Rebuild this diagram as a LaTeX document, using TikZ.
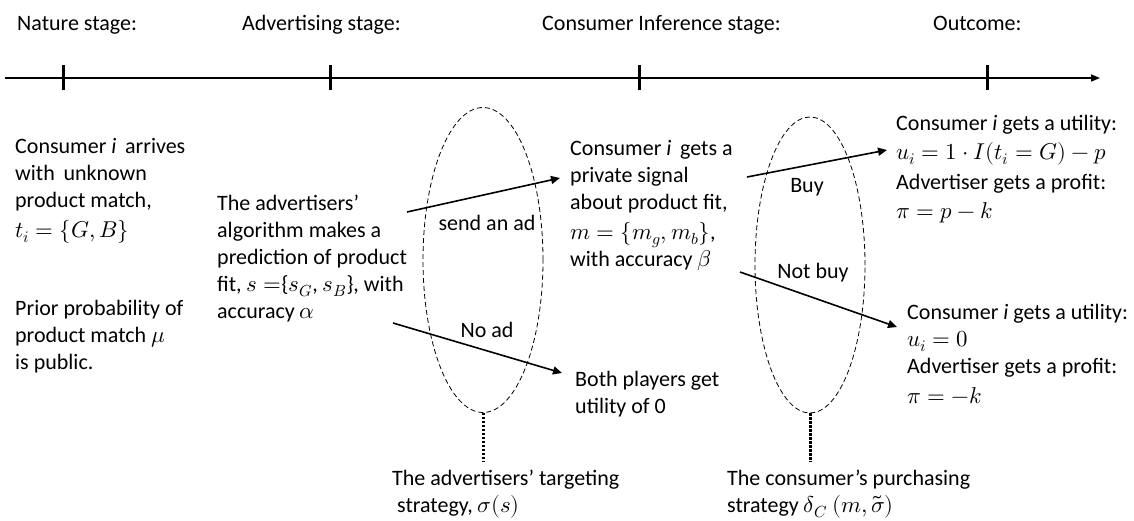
\documentclass[tikz,border=0pt]{standalone}
\usepackage{fontspec}
\usepackage{unicode-math}
\setmainfont{Carlito}
\setmathfont{Latin Modern Math}[Scale=1.04]
\usetikzlibrary{positioning, arrows.meta, shapes.geometric}

\tikzset{
  txt/.style={anchor=base west, align=left, inner sep=0pt, font=\fontsize{22}{27}\selectfont},
  act/.style={inner sep=0pt, font=\fontsize{22}{27}\selectfont},
  choice/.style={-{Triangle[length=9pt,width=8pt]}, line width=1.6pt},
  infoset/.style={draw, ellipse, dash pattern=on 5pt off 3pt, line width=0.8pt, inner sep=0pt},
  link/.style={line width=3pt, dash pattern=on 2.5pt off 1.5pt},
  tickmark/.style={line width=3pt}
}

\begin{document}
\begin{tikzpicture}[x=1pt, y=-1pt]
  \useasboundingbox (0,0) rectangle (1134,520);

  % time line
  \coordinate (tStart) at (5,78);
  \coordinate (tEnd) at (1100,78);
  \draw[line width=1.6pt, -{Triangle[length=9pt,width=7pt]}] (tStart) -- (tEnd);
  \foreach \name/\x in {nat/63, adv/330, inf/639, out/987}
    \draw[tickmark] (\x,65) coordinate (\name) -- (\x,90);

  % stages (base = last line)
  \node[txt] (natStage) at (17,30)  {Nature stage:};
  \node[txt] (advStage) at (242,30) {Advertising stage:};
  \node[txt] (infStage) at (542,30) {Consumer Inference stage:};
  \node[txt] (outStage) at (933,30) {Outcome:};

  % nature
  \node[txt] (arrive) at (15,237) {Consumer \textit{i}\, arrives\\ with\, unknown\\ product match,\\[3pt] $t_i=\{G,B\}$};
  \node[txt] (prior) at (15,369) {Prior probability of\\ product match $\mu$\\ is public.};

  % advertiser
  \node[txt] (algo) at (217,318) {The advertisers’\\ algorithm makes a\\ prediction of product\\ fit, $s=$\{$s_G$, $s_B$\}, with\\ accuracy $\alpha$};
  \node[infoset, minimum width=120pt, minimum height=305pt] (adSet) at (483,260) {};
  \node[act] (sendAd) at (487,223) {send an ad};
  \node[act] (noAd) at (487,330) {No ad};

  % consumer
  \node[txt] (signal) at (570,266) {Consumer \textit{i}\, gets a\\ private signal\\ about product fit,\\[3pt] $m=\{m_g,m_b\}$,\\ with accuracy $\beta$};
  \node[txt] (nothing) at (575,413) {Both players get\\ utility of 0};
  \node[infoset, minimum width=110pt, minimum height=296pt] (buySet) at (810,265) {};
  \node[act] (buy) at (807,187) {Buy};
  \node[act] (notBuy) at (813,273) {Not buy};

  % outcomes
  \node[txt] (gain) at (896,218) {Consumer \textit{i} gets a utility:\\[2pt] $u_i=1\cdot I(t_i=G)-p$\\[3pt] Advertiser gets a profit:\\[2pt] $\pi=p-k$};
  \node[txt] (loss) at (907,403) {Consumer \textit{i} gets a utility:\\ $u_i=0$\\ Advertiser gets a profit:\\[3pt] $\pi=-k$};

  % strategies
  \node[txt] (adStrat) at (392,512) {The advertisers’ targeting\\ \hspace*{5pt}strategy, $\sigma(s)$};
  \node[txt] (buyStrat) at (727,512) {The consumer’s purchasing\\ strategy $\delta_C\ (m,\tilde{\sigma})$};

  % moves
  \coordinate (adFrom) at (407,212);   \coordinate (adTo) at (560,178);
  \coordinate (noFrom) at (393,323);   \coordinate (noTo) at (562,373);
  \coordinate (buyFrom) at (747,177);  \coordinate (buyTo) at (887,150);
  \coordinate (nbFrom) at (740,272);   \coordinate (nbTo) at (897,327);
  \draw[choice] (adFrom) -- (adTo);
  \draw[choice] (noFrom) -- (noTo);
  \draw[choice] (buyFrom) -- (buyTo);
  \draw[choice] (nbFrom) -- (nbTo);

  % information sets to strategies
  \draw[link] (adSet.south) -- ++(0,49);
  \draw[link] (buySet.south) -- ++(0,49);
\end{tikzpicture}
\end{document}
